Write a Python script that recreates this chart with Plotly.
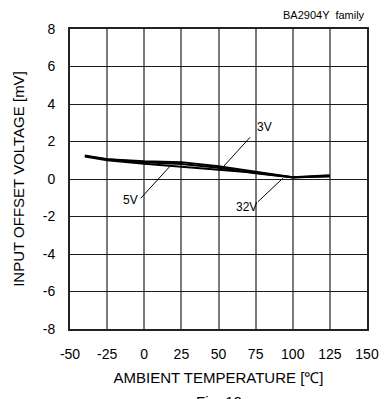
import plotly.graph_objects as go

# Ambient temperature sample points [°C]
temps = [-40, -25, 0, 25, 50, 75, 100, 125]
# Input offset voltage [mV] per supply voltage
vio_3v = [1.25, 1.05, 0.95, 0.90, 0.68, 0.38, 0.10, 0.20]
vio_5v = [1.20, 1.00, 0.82, 0.66, 0.48, 0.33, 0.10, 0.15]
vio_32v = [1.22, 1.05, 0.90, 0.80, 0.60, 0.30, 0.08, 0.15]

x_ticks = [-50, -25, 0, 25, 50, 75, 100, 125, 150]
y_ticks = [-8, -6, -4, -2, 0, 2, 4, 6, 8]

font_family = "Liberation Sans, Arial, sans-serif"

fig = go.Figure()
for name, vals in [("3V", vio_3v), ("5V", vio_5v), ("32V", vio_32v)]:
    fig.add_trace(go.Scatter(x=temps, y=vals, mode="lines", name=name,
                             line=dict(color="black", width=2)))

# Leader lines from each label to its curve
leaders = [
    ((71.2, 2.22), (51.7, 0.52)),
    ((-2.4, -1.03), (17.1, 0.66)),
    ((76.6, -1.21), (93.3, 0.04)),
]
for (x0, y0), (x1, y1) in leaders:
    fig.add_trace(go.Scatter(x=[x0, x1], y=[y0, y1], mode="lines",
                             line=dict(color="black", width=1), hoverinfo="skip"))

labels = [("3V", 81, 2.8), ("5V", -9.5, -1.1), ("32V", 69, -1.5)]
for txt, x, y in labels:
    fig.add_annotation(x=x, y=y, text=txt, showarrow=False,
                       font=dict(size=12, color="black", family=font_family))

fig.add_annotation(xref="paper", yref="paper", x=1.0, y=1.0, yshift=22,
                   xanchor="right", yanchor="top", text="BA2904Y  family",
                   showarrow=False, font=dict(size=11, color="black", family=font_family))
fig.add_annotation(xref="paper", yref="paper", x=0.5, y=0, yshift=-62,
                   xanchor="center", yanchor="top", text="Fig. 12",
                   showarrow=False, font=dict(size=15, color="black", family=font_family))

fig.update_layout(
    width=391, height=399,
    margin=dict(l=70, r=13, t=29, b=70),
    paper_bgcolor="white", plot_bgcolor="white",
    showlegend=False,
    font=dict(family=font_family, color="black", size=14),
    xaxis=dict(range=[-50, 150], tickvals=x_ticks, ticktext=[str(v) for v in x_ticks],
               showgrid=True, gridcolor="#7a7a7a", gridwidth=1.5,
               showline=True, linecolor="#222", linewidth=2, mirror=True,
               zeroline=False, ticks="", ticklen=0, ticklabelstandoff=11,
               title=dict(text="AMBIENT TEMPERATURE [\u2103]", font=dict(size=15), standoff=12)),
    yaxis=dict(range=[-8, 8], tickvals=y_ticks, ticktext=[str(v) for v in y_ticks],
               showgrid=True, gridcolor="#1a1a1a", gridwidth=1,
               showline=True, linecolor="#222", linewidth=2, mirror=True,
               zeroline=False, ticks="", ticklen=0, ticklabelstandoff=10,
               title=dict(text="INPUT OFFSET VOLTAGE [mV]", font=dict(size=15), standoff=14)),
)

fig.write_html("out.html")
